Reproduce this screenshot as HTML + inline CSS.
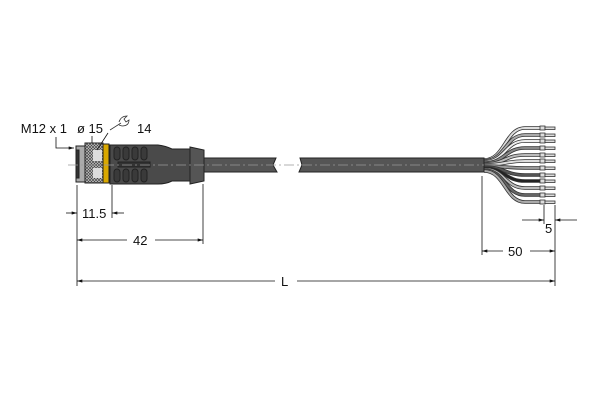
<!DOCTYPE html>
<html><head><meta charset="utf-8"><style>
html,body{margin:0;padding:0;background:#fff;width:600px;height:400px;overflow:hidden}
svg{display:block}
text{font-family:"Liberation Sans",sans-serif;font-size:13px;fill:#111}
</style></head><body>
<svg width="600" height="400" viewBox="0 0 600 400" xmlns="http://www.w3.org/2000/svg">
<defs>
<pattern id="kn" width="3" height="3" patternUnits="userSpaceOnUse">
<rect width="3" height="3" fill="#ccc"/><path d="M0 0L3 3M3 0L0 3" stroke="#444" stroke-width="0.7"/>
</pattern>
<marker id="ar" viewBox="0 0 10 6" refX="10" refY="3" markerWidth="8" markerHeight="4" orient="auto-start-reverse"><path d="M0 0L10 3L0 6z" fill="#111"/></marker>
</defs>
<g fill="none">
<path d="M484 160 C505 160,505 128,525 128 L541 128" stroke="#333" stroke-width="3.6"/><path d="M484 160 C505 160,505 128,525 128 L541 128" stroke="#ddd" stroke-width="2"/>
<path d="M484 161 C505 161,505 135,525 135 L541 135" stroke="#333" stroke-width="3.6"/><path d="M484 161 C505 161,505 135,525 135 L541 135" stroke="#aaa" stroke-width="2"/>
<path d="M484 162 C505 162,505 141,525 141 L541 141" stroke="#333" stroke-width="3.6"/><path d="M484 162 C505 162,505 141,525 141 L541 141" stroke="#eee" stroke-width="2"/>
<path d="M484 163 C505 163,505 148,525 148 L541 148" stroke="#333" stroke-width="3.6"/><path d="M484 163 C505 163,505 148,525 148 L541 148" stroke="#888" stroke-width="2"/>
<path d="M484 164 C505 164,505 155,525 155 L541 155" stroke="#333" stroke-width="3.6"/><path d="M484 164 C505 164,505 155,525 155 L541 155" stroke="#bbb" stroke-width="2"/>
<path d="M484 165 C505 165,505 161,525 161 L541 161" stroke="#333" stroke-width="3.6"/><path d="M484 165 C505 165,505 161,525 161 L541 161" stroke="#ddd" stroke-width="2"/>
<path d="M484 166 C505 166,505 168,525 168 L541 168" stroke="#333" stroke-width="3.6"/><path d="M484 166 C505 166,505 168,525 168 L541 168" stroke="#999" stroke-width="2"/>
<path d="M484 167 C505 167,505 175,525 175 L541 175" stroke="#333" stroke-width="3.6"/><path d="M484 167 C505 167,505 175,525 175 L541 175" stroke="#555" stroke-width="2"/>
<path d="M484 168 C505 168,505 181,525 181 L541 181" stroke="#333" stroke-width="3.6"/><path d="M484 168 C505 168,505 181,525 181 L541 181" stroke="#222" stroke-width="2"/>
<path d="M484 169 C505 169,505 188,525 188 L541 188" stroke="#333" stroke-width="3.6"/><path d="M484 169 C505 169,505 188,525 188 L541 188" stroke="#bbb" stroke-width="2"/>
<path d="M484 170 C505 170,505 195,525 195 L541 195" stroke="#333" stroke-width="3.6"/><path d="M484 170 C505 170,505 195,525 195 L541 195" stroke="#666" stroke-width="2"/>
<path d="M484 171 C505 171,505 202,525 202 L541 202" stroke="#333" stroke-width="3.6"/><path d="M484 171 C505 171,505 202,525 202 L541 202" stroke="#aaa" stroke-width="2"/>
</g>
<g fill="#ddd" stroke="#333" stroke-width="0.8">
<rect x="540" y="126" width="5" height="4"/><rect x="545" y="127" width="10" height="2.5"/>
<rect x="540" y="133" width="5" height="4"/><rect x="545" y="134" width="10" height="2.5"/>
<rect x="540" y="139" width="5" height="4"/><rect x="545" y="140" width="10" height="2.5"/>
<rect x="540" y="146" width="5" height="4"/><rect x="545" y="147" width="10" height="2.5"/>
<rect x="540" y="153" width="5" height="4"/><rect x="545" y="154" width="10" height="2.5"/>
<rect x="540" y="159" width="5" height="4"/><rect x="545" y="160" width="10" height="2.5"/>
<rect x="540" y="166" width="5" height="4"/><rect x="545" y="167" width="10" height="2.5"/>
<rect x="540" y="173" width="5" height="4"/><rect x="545" y="174" width="10" height="2.5"/>
<rect x="540" y="179" width="5" height="4"/><rect x="545" y="180" width="10" height="2.5"/>
<rect x="540" y="186" width="5" height="4"/><rect x="545" y="187" width="10" height="2.5"/>
<rect x="540" y="193" width="5" height="4"/><rect x="545" y="194" width="10" height="2.5"/>
<rect x="540" y="200" width="5" height="4"/><rect x="545" y="201" width="10" height="2.5"/>
</g>
<g fill="#555" stroke="#222" stroke-width="1">
<path d="M200 158 L276 158 L273 165 L277 172 L200 172Z"/>
<path d="M300 158 L484 158 L484 172 L299 172 L302 165Z"/>
</g>
<g stroke="#222" stroke-width="1">
<rect x="76" y="146" width="9" height="36" fill="#aaa"/>
<rect x="76" y="150" width="3" height="28" fill="#333"/>
<rect x="85" y="143" width="18" height="40" fill="url(#kn)"/>
<rect x="93" y="150" width="9" height="11" fill="#ddd" stroke="none"/>
<rect x="93" y="168" width="9" height="10" fill="#ddd" stroke="none"/>
<rect x="103" y="144" width="6" height="39" fill="#d9a800"/>
<path d="M110 145 L158 145 Q166 146 172 149 L191 149 L191 181 L172 181 Q166 184 158 184 L110 184Z" fill="#4a4a4a"/>
<path d="M190 147 L204 150 L204 181 L190 184Z" fill="#555"/>
</g>
<g stroke="#222" stroke-width="1" fill="#3a3a3a">
<rect x="114" y="147" width="6" height="13" rx="3"/><rect x="123" y="147" width="6" height="13" rx="3"/><rect x="132" y="147" width="6" height="13" rx="3"/><rect x="141" y="147" width="6" height="13" rx="3"/>
<rect x="114" y="169" width="6" height="13" rx="3"/><rect x="123" y="169" width="6" height="13" rx="3"/><rect x="132" y="169" width="6" height="13" rx="3"/><rect x="141" y="169" width="6" height="13" rx="3"/>
<rect x="118" y="162" width="32" height="5" fill="#333"/>
</g>
<line x1="68" y1="165" x2="484" y2="165" stroke="#999" stroke-width="0.8" stroke-dasharray="10,3,2,3"/>
<text x="67" y="133" text-anchor="end">M12 x 1</text>
<text x="77" y="133">ø 15</text>
<text x="137" y="133">14</text>
<path d="M110 130 L121 123 M119 122 q2 -6 8 -6 l-3 3 l2 3 l3 -2 q0 6 -7 6 l-3 -1" fill="none" stroke="#333" stroke-width="0.8"/>
<line x1="92" y1="136" x2="92" y2="143" stroke="#111" stroke-width="0.8"/>
<line x1="108" y1="133" x2="97" y2="150" stroke="#111" stroke-width="0.8"/>
<path d="M56 137 L56 148 L74 148" fill="none" stroke="#111" stroke-width="0.8" marker-end="url(#ar)"/>
<g stroke="#111" stroke-width="0.8" fill="none">
<line x1="77" y1="185" x2="77" y2="286"/>
<line x1="112" y1="185" x2="112" y2="218"/>
<line x1="203" y1="184" x2="203" y2="244"/>
<line x1="482" y1="176" x2="482" y2="255"/>
<line x1="555" y1="205" x2="555" y2="286"/>
<line x1="544" y1="205" x2="544" y2="224"/>
<line x1="66" y1="213" x2="77" y2="213" marker-end="url(#ar)"/>
<line x1="124" y1="213" x2="112" y2="213" marker-end="url(#ar)"/>
<line x1="77" y1="240" x2="127" y2="240" marker-start="url(#ar)"/>
<line x1="155" y1="240" x2="203" y2="240" marker-end="url(#ar)"/>
<line x1="77" y1="281" x2="275" y2="281" marker-start="url(#ar)"/>
<line x1="297" y1="281" x2="555" y2="281" marker-end="url(#ar)"/>
<line x1="482" y1="251" x2="503" y2="251" marker-start="url(#ar)"/>
<line x1="530" y1="251" x2="555" y2="251" marker-end="url(#ar)"/>
<line x1="522" y1="220" x2="544" y2="220" marker-end="url(#ar)"/>
<line x1="577" y1="220" x2="555" y2="220" marker-end="url(#ar)"/>
</g>
<text x="82" y="218">11.5</text>
<text x="133" y="245">42</text>
<text x="281" y="286">L</text>
<text x="508" y="256">50</text>
<text x="545" y="233">5</text>
</svg>
</body></html>
